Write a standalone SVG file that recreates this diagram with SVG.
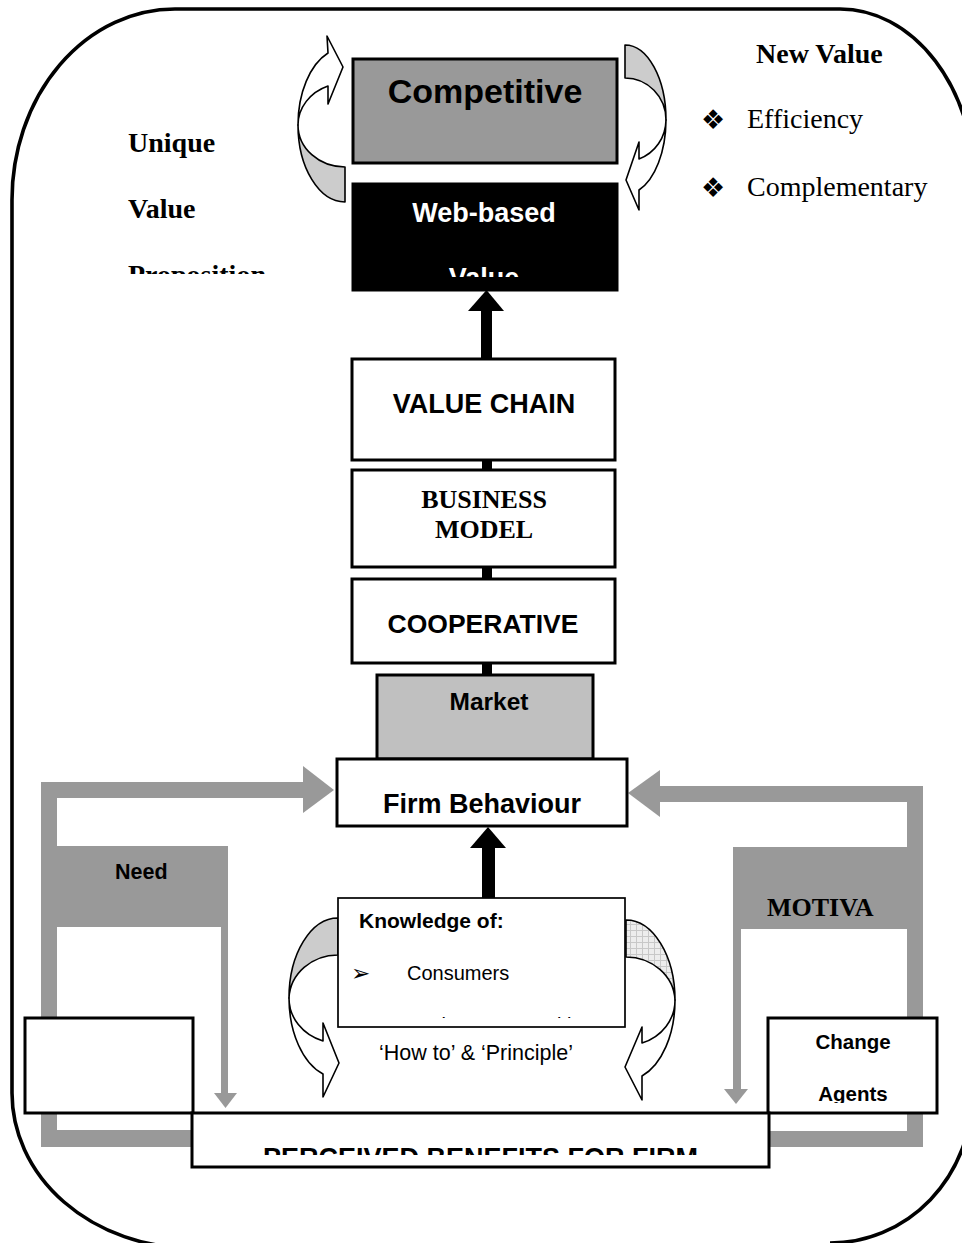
<svg xmlns="http://www.w3.org/2000/svg" width="962" height="1243" viewBox="0 0 962 1243">
<style>
.box{stroke:#000;stroke-width:3}
.sans{font-family:"Liberation Sans",Arial,sans-serif}
.serif{font-family:"Liberation Serif","Times New Roman",serif}
.b{font-weight:bold}
.gray{fill:#999999}
.curve{stroke:#000;stroke-width:1.6;stroke-linejoin:round}
.sym{font-family:"DejaVu Sans",sans-serif}
</style>
<defs>
<pattern id="hatch" width="6" height="6" patternUnits="userSpaceOnUse">
<rect width="6" height="6" fill="#ededed"/>
<path d="M0 0.5H6M0.5 0V6" stroke="#c8c8c8" stroke-width="1"/>
</pattern>
<clipPath id="cProp"><rect x="100" y="240" width="220" height="34"/></clipPath>
<clipPath id="cWebVal"><rect x="353" y="240" width="264" height="37"/></clipPath>
<clipPath id="cKnow"><rect x="338" y="990" width="287" height="28"/></clipPath>
<clipPath id="cAgents"><rect x="768" y="1060" width="170" height="43"/></clipPath>
<clipPath id="cPerc"><rect x="192" y="1113" width="577" height="42"/></clipPath>
</defs>
<rect width="962" height="1243" fill="#fff"/>
<path id="frame" d="M190,1248 A180 155 0 0 1 12,1093 L12,200 A163 191 0 0 1 175,9 L840,9 A135 178 0 0 1 975,187 L972,1095 A142 148 0 0 1 830,1243" fill="none" stroke="#000" stroke-width="3.6"/>

<g id="connectors">
<g class="gray">
<rect x="41" y="782" width="262" height="16"/>
<polygon points="303,766 334,790 303,813"/>
<rect x="41" y="782" width="16" height="365"/>
<rect x="41" y="1130" width="160" height="17"/>
<rect x="57" y="846" width="171" height="81"/>
<rect x="221" y="927" width="7" height="166"/>
<polygon points="214,1093 237,1093 225.5,1108"/>
<rect x="660" y="786" width="263" height="16"/>
<polygon points="660,770 628,793 660,817"/>
<rect x="907" y="786" width="16" height="361"/>
<rect x="760" y="1131" width="163" height="16"/>
<rect x="733" y="847" width="190" height="82"/>
<rect x="733" y="929" width="8" height="160"/>
<polygon points="724,1089 748,1089 736,1104"/>
</g>
<rect x="481" y="310" width="11" height="49"/>
<polygon points="468,311 486.5,290 504,311"/>
<rect x="482" y="460" width="10" height="10"/>
<rect x="482" y="567" width="10" height="12"/>
<rect x="482" y="663" width="10" height="12"/>
<rect x="482" y="847" width="13" height="51"/>
<polygon points="470,848 488,827 506,848"/>
<path class="curve" fill="#cccccc" d="M345,202 A47 77 0 0 1 298,125 A47 42 0 0 0 345,167 Z"/>
<path class="curve" fill="#fff" d="M298,125 A47 77 0 0 1 328,53 L327,36 L343,67 L328,104 L328,86 A47 42 0 0 0 298,125 Z"/>
<path class="curve" fill="#cccccc" d="M625,45 A41 75 0 0 1 666,120 A41 42 0 0 0 625,78 Z"/>
<path class="curve" fill="#fff" d="M666,120 A41 75 0 0 1 639,190 L639,210 L626,180 L639,142 L639,159 A41 42 0 0 0 666,120 Z"/>
<path class="curve" fill="#cccccc" d="M338,918 A49 80 0 0 0 289,998 A49 45 0 0 1 338,955 Z"/>
<path class="curve" fill="#fff" d="M289,998 A49 80 0 0 0 323,1074 L323,1097 L339,1063 L323,1023 L323,1041 A49 45 0 0 1 289,998 Z"/>
<path class="curve" fill="url(#hatch)" d="M626,920 A49 80 0 0 1 675,1000 A49 45 0 0 0 626,957 Z"/>
<path class="curve" fill="#fff" d="M675,1000 A49 80 0 0 1 642,1076 L642,1100 L625,1067 L642,1027 L642,1043 A49 45 0 0 0 675,1000 Z"/>
</g>

<g id="node-competitive">
<rect class="box" x="353" y="59" width="264" height="104" fill="#999999" stroke-width="2.6"/>
<text class="sans b" x="485" y="103" font-size="34" text-anchor="middle">Competitive</text>
</g>
<g id="node-webbased">
<rect class="box" x="353" y="184" width="264" height="106" fill="#000"/>
<text class="sans b" x="484" y="222" font-size="27" fill="#fff" text-anchor="middle">Web-based</text>
<text class="sans b" x="484" y="287" font-size="27" fill="#fff" text-anchor="middle" clip-path="url(#cWebVal)">Value</text>
</g>
<g id="node-uvp">
<text class="serif b" x="128" y="152" font-size="28">Unique</text>
<text class="serif b" x="128" y="218" font-size="28">Value</text>
<text class="serif b" x="128" y="284" font-size="28" clip-path="url(#cProp)">Proposition</text>
</g>
<g id="node-newvalue">
<text class="serif b" x="756" y="63" font-size="28">New Value</text>
<text class="sym" x="701" y="129" font-size="27">❖</text>
<text class="serif" x="747" y="128" font-size="28">Efficiency</text>
<text class="sym" x="701" y="197" font-size="27">❖</text>
<text class="serif" x="747" y="196" font-size="28">Complementary</text>
</g>
<g id="node-valuechain">
<rect class="box" x="352" y="359" width="263" height="101" fill="#fff"/>
<text class="sans b" x="484" y="413" font-size="27" text-anchor="middle">VALUE CHAIN</text>
</g>
<g id="node-business">
<rect class="box" x="352" y="470" width="263" height="97" fill="#fff"/>
<text class="serif b" x="484" y="508" font-size="26" text-anchor="middle">BUSINESS</text>
<text class="serif b" x="484" y="538" font-size="26" text-anchor="middle">MODEL</text>
</g>
<g id="node-cooperative">
<rect class="box" x="352" y="579" width="263" height="84" fill="#fff"/>
<text class="sans b" x="483" y="633" font-size="26.5" text-anchor="middle">COOPERATIVE</text>
</g>
<g id="node-market">
<rect class="box" x="377" y="675" width="216" height="84" fill="#c0c0c0"/>
<text class="sans b" x="489" y="710" font-size="24.5" text-anchor="middle">Market</text>
</g>
<g id="node-firm">
<rect class="box" x="337" y="759" width="290" height="67" fill="#fff"/>
<text class="sans b" x="482" y="813" font-size="27" text-anchor="middle">Firm Behaviour</text>
</g>
<g id="node-knowledge">
<rect x="338" y="898" width="287" height="129" fill="#fff" stroke="#000" stroke-width="1.7"/>
<text class="sans b" x="359" y="928" font-size="21">Knowledge of:</text>
<text class="sym" x="351" y="981" font-size="23">➢</text>
<text class="sans" x="407" y="980" font-size="20">Consumers</text>
<g clip-path="url(#cKnow)">
<text class="sym" x="351" y="1033" font-size="23">➢</text>
<text class="sans" x="407" y="1032" font-size="20">Market Opportunities</text>
</g>
</g>
<g id="node-howto">
<text class="sans" x="476" y="1060" font-size="21.5" text-anchor="middle">‘How to’ &amp; ‘Principle’</text>
</g>
<g id="node-need">
<text class="sans b" x="115" y="879" font-size="21.5">Need</text>
</g>
<g id="node-motiva">
<text class="serif b" x="767" y="916" font-size="26">MOTIVA</text>
</g>
<g id="node-leftbox">
<rect class="box" x="25" y="1018" width="168" height="95" fill="#fff"/>
</g>
<g id="node-change">
<rect class="box" x="768" y="1018" width="169" height="95" fill="#fff"/>
<text class="sans b" x="853" y="1049" font-size="20.5" text-anchor="middle">Change</text>
<text class="sans b" x="853" y="1101" font-size="20.5" text-anchor="middle" clip-path="url(#cAgents)">Agents</text>
</g>
<g id="node-perceived">
<rect class="box" x="192" y="1113" width="577" height="54" fill="#fff"/>
<text class="sans b" x="480.5" y="1167" font-size="27" text-anchor="middle" clip-path="url(#cPerc)">PERCEIVED BENEFITS FOR FIRM</text>
</g>
</svg>
